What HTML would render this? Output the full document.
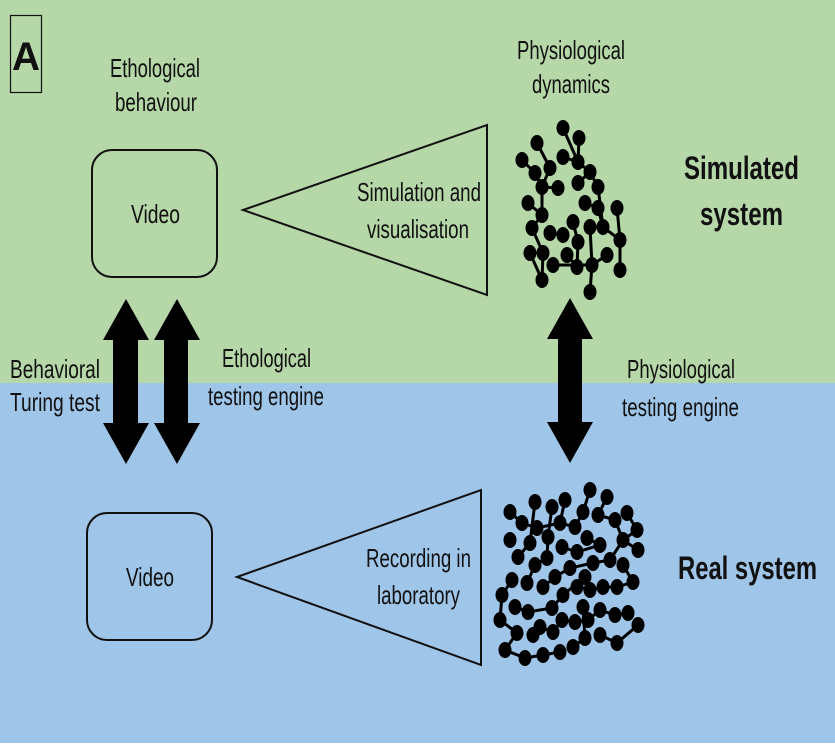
<!DOCTYPE html>
<html><head><meta charset="utf-8"><style>
html,body{margin:0;padding:0}
body{width:835px;height:743px;overflow:hidden}
text{font-family:"Liberation Sans",sans-serif;fill:#111}
</style></head><body>
<svg width="835" height="743" viewBox="0 0 835 743" xmlns="http://www.w3.org/2000/svg">
<rect x="0" y="0" width="835" height="383" fill="#b6d7a8"/>
<rect x="0" y="383" width="835" height="360" fill="#9fc5e8"/>
<rect x="10.5" y="15.5" width="31" height="77" fill="none" stroke="#111" stroke-width="1.2"/>
<text x="12" y="70" font-size="40" font-weight="bold" textLength="28" lengthAdjust="spacingAndGlyphs">A</text>
<g font-size="26">
<text x="110" y="77" textLength="90" lengthAdjust="spacingAndGlyphs">Ethological</text>
<text x="115" y="111" textLength="82" lengthAdjust="spacingAndGlyphs">behaviour</text>
<text x="517" y="59" textLength="108" lengthAdjust="spacingAndGlyphs">Physiological</text>
<text x="532" y="93" textLength="78" lengthAdjust="spacingAndGlyphs">dynamics</text>
<text x="357" y="201" textLength="124" lengthAdjust="spacingAndGlyphs">Simulation and</text>
<text x="367" y="238" textLength="102" lengthAdjust="spacingAndGlyphs">visualisation</text>
<text x="131" y="223" textLength="49" lengthAdjust="spacingAndGlyphs">Video</text>
<text x="126" y="586" textLength="48" lengthAdjust="spacingAndGlyphs">Video</text>
<text x="366" y="567" textLength="105" lengthAdjust="spacingAndGlyphs">Recording in</text>
<text x="377" y="604" textLength="83" lengthAdjust="spacingAndGlyphs">laboratory</text>
<text x="10" y="378" textLength="90" lengthAdjust="spacingAndGlyphs">Behavioral</text>
<text x="10" y="411" textLength="90" lengthAdjust="spacingAndGlyphs">Turing test</text>
<text x="222" y="367" textLength="89" lengthAdjust="spacingAndGlyphs">Ethological</text>
<text x="208" y="405" textLength="116" lengthAdjust="spacingAndGlyphs">testing engine</text>
<text x="627" y="378" textLength="108" lengthAdjust="spacingAndGlyphs">Physiological</text>
<text x="622" y="416" textLength="117" lengthAdjust="spacingAndGlyphs">testing engine</text>
</g>
<g font-size="32" font-weight="bold">
<text x="684" y="179" textLength="115" lengthAdjust="spacingAndGlyphs">Simulated</text>
<text x="700" y="225" textLength="83" lengthAdjust="spacingAndGlyphs">system</text>
<text x="678" y="579" textLength="139" lengthAdjust="spacingAndGlyphs">Real system</text>
</g>
<rect x="92" y="150" width="125" height="127" rx="20" fill="none" stroke="#111" stroke-width="2"/>
<rect x="87" y="513" width="125" height="127" rx="20" fill="none" stroke="#111" stroke-width="2"/>
<polygon points="243,210 487,125 487,295" fill="none" stroke="#111" stroke-width="2"/>
<polygon points="237,577 481,490 481,665" fill="none" stroke="#111" stroke-width="2"/>
<polygon points="126,299 149,340 138,340 138,423 149,423 126,464 103,423 113,423 113,340 103,340" fill="#000"/>
<polygon points="177,299 200,340 188,340 188,423 200,423 177,464 154,423 164,423 164,340 154,340" fill="#000"/>
<polygon points="570,298 593,339 582,339 582,422 593,422 570,463 547,422 558,422 558,339 547,339" fill="#000"/>
<g stroke="#000" stroke-width="3" fill="none">
<polyline points="563,128 578,162 590,172 598,187 603,227 590,227 592,265 590,292"/>
<polyline points="579,138 578,162 563,157"/>
<polyline points="537,143 550,168 542,187 542,215 528,203"/>
<polyline points="522,160 535,173 542,187 558,188"/>
<polyline points="542,215 532,228 543,253 542,280 530,253"/>
<polyline points="550,233 563,235"/>
<polyline points="578,183 590,172"/>
<polyline points="585,203 598,208 603,227 620,240 617,208"/>
<polyline points="573,222 578,242 577,267 567,255"/>
<polyline points="620,240 620,270"/>
<polyline points="607,255 592,265 553,265"/>
</g>
<g fill="#000">
<ellipse cx="563" cy="128" rx="6.5" ry="8"/><ellipse cx="579" cy="138" rx="6.5" ry="8"/><ellipse cx="537" cy="143" rx="6.5" ry="8"/><ellipse cx="522" cy="160" rx="6.5" ry="8"/><ellipse cx="563" cy="157" rx="6.5" ry="8"/><ellipse cx="578" cy="162" rx="6.5" ry="8"/><ellipse cx="550" cy="168" rx="6.5" ry="8"/><ellipse cx="535" cy="173" rx="6.5" ry="8"/><ellipse cx="590" cy="172" rx="6.5" ry="8"/><ellipse cx="542" cy="187" rx="6.5" ry="8"/><ellipse cx="558" cy="188" rx="6.5" ry="8"/><ellipse cx="578" cy="183" rx="6.5" ry="8"/><ellipse cx="598" cy="187" rx="6.5" ry="8"/><ellipse cx="528" cy="203" rx="6.5" ry="8"/><ellipse cx="585" cy="203" rx="6.5" ry="8"/><ellipse cx="598" cy="208" rx="6.5" ry="8"/><ellipse cx="617" cy="208" rx="6.5" ry="8"/><ellipse cx="542" cy="215" rx="6.5" ry="8"/><ellipse cx="573" cy="222" rx="6.5" ry="8"/><ellipse cx="532" cy="228" rx="6.5" ry="8"/><ellipse cx="590" cy="227" rx="6.5" ry="8"/><ellipse cx="603" cy="227" rx="6.5" ry="8"/><ellipse cx="550" cy="233" rx="6.5" ry="8"/><ellipse cx="563" cy="235" rx="6.5" ry="8"/><ellipse cx="620" cy="240" rx="6.5" ry="8"/><ellipse cx="578" cy="242" rx="6.5" ry="8"/><ellipse cx="530" cy="253" rx="6.5" ry="8"/><ellipse cx="543" cy="253" rx="6.5" ry="8"/><ellipse cx="567" cy="255" rx="6.5" ry="8"/><ellipse cx="607" cy="255" rx="6.5" ry="8"/><ellipse cx="553" cy="265" rx="6.5" ry="8"/><ellipse cx="577" cy="267" rx="6.5" ry="8"/><ellipse cx="592" cy="265" rx="6.5" ry="8"/><ellipse cx="620" cy="270" rx="6.5" ry="8"/><ellipse cx="542" cy="280" rx="6.5" ry="8"/><ellipse cx="590" cy="292" rx="6.5" ry="8"/>
</g>
<g stroke="#000" stroke-width="3" fill="none">
<polyline points="590,490 583,512 575,527 560,523 537,528 522,523 510,512"/>
<polyline points="535,502 530,543 518,557"/>
<polyline points="552,507 548,537 547,558 535,565 527,583"/>
<polyline points="565,500 560,523"/>
<polyline points="607,497 598,515 615,520 623,540 638,550"/>
<polyline points="627,513 637,530 623,540 610,560 593,563 570,568 555,577 543,587"/>
<polyline points="587,538 600,545 577,552 562,547"/>
<polyline points="623,565 633,582 617,587 603,587 590,590 577,587"/>
<polyline points="512,580 502,595 500,620 517,633 505,650 525,658 543,655 560,652"/>
<polyline points="515,607 528,612 552,608 563,595 585,577"/>
<polyline points="540,627 553,632 562,620 575,622 588,620 600,610 615,615 628,613"/>
<polyline points="583,607 585,638 573,647"/>
<polyline points="638,625 617,643 600,635"/>
<polyline points="533,635 540,627"/>
</g>
<g fill="#000">
<ellipse cx="590" cy="490" rx="6.5" ry="8"/><ellipse cx="607" cy="497" rx="6.5" ry="8"/><ellipse cx="565" cy="500" rx="6.5" ry="8"/><ellipse cx="535" cy="502" rx="6.5" ry="8"/><ellipse cx="552" cy="507" rx="6.5" ry="8"/><ellipse cx="510" cy="512" rx="6.5" ry="8"/><ellipse cx="583" cy="512" rx="6.5" ry="8"/><ellipse cx="627" cy="513" rx="6.5" ry="8"/><ellipse cx="598" cy="515" rx="6.5" ry="8"/><ellipse cx="615" cy="520" rx="6.5" ry="8"/><ellipse cx="522" cy="523" rx="6.5" ry="8"/><ellipse cx="560" cy="523" rx="6.5" ry="8"/><ellipse cx="537" cy="528" rx="6.5" ry="8"/><ellipse cx="575" cy="527" rx="6.5" ry="8"/><ellipse cx="637" cy="530" rx="6.5" ry="8"/><ellipse cx="548" cy="537" rx="6.5" ry="8"/><ellipse cx="587" cy="538" rx="6.5" ry="8"/><ellipse cx="510" cy="540" rx="6.5" ry="8"/><ellipse cx="623" cy="540" rx="6.5" ry="8"/><ellipse cx="530" cy="543" rx="6.5" ry="8"/><ellipse cx="562" cy="547" rx="6.5" ry="8"/><ellipse cx="600" cy="545" rx="6.5" ry="8"/><ellipse cx="638" cy="550" rx="6.5" ry="8"/><ellipse cx="577" cy="552" rx="6.5" ry="8"/><ellipse cx="518" cy="557" rx="6.5" ry="8"/><ellipse cx="547" cy="558" rx="6.5" ry="8"/><ellipse cx="610" cy="560" rx="6.5" ry="8"/><ellipse cx="535" cy="565" rx="6.5" ry="8"/><ellipse cx="593" cy="563" rx="6.5" ry="8"/><ellipse cx="623" cy="565" rx="6.5" ry="8"/><ellipse cx="570" cy="568" rx="6.5" ry="8"/><ellipse cx="555" cy="577" rx="6.5" ry="8"/><ellipse cx="585" cy="577" rx="6.5" ry="8"/><ellipse cx="512" cy="580" rx="6.5" ry="8"/><ellipse cx="633" cy="582" rx="6.5" ry="8"/><ellipse cx="527" cy="583" rx="6.5" ry="8"/><ellipse cx="543" cy="587" rx="6.5" ry="8"/><ellipse cx="603" cy="587" rx="6.5" ry="8"/><ellipse cx="617" cy="587" rx="6.5" ry="8"/><ellipse cx="577" cy="587" rx="6.5" ry="8"/><ellipse cx="590" cy="590" rx="6.5" ry="8"/><ellipse cx="502" cy="595" rx="6.5" ry="8"/><ellipse cx="563" cy="595" rx="6.5" ry="8"/><ellipse cx="515" cy="607" rx="6.5" ry="8"/><ellipse cx="552" cy="608" rx="6.5" ry="8"/><ellipse cx="528" cy="612" rx="6.5" ry="8"/><ellipse cx="583" cy="607" rx="6.5" ry="8"/><ellipse cx="600" cy="610" rx="6.5" ry="8"/><ellipse cx="615" cy="615" rx="6.5" ry="8"/><ellipse cx="628" cy="613" rx="6.5" ry="8"/><ellipse cx="500" cy="620" rx="6.5" ry="8"/><ellipse cx="562" cy="620" rx="6.5" ry="8"/><ellipse cx="575" cy="622" rx="6.5" ry="8"/><ellipse cx="588" cy="620" rx="6.5" ry="8"/><ellipse cx="540" cy="627" rx="6.5" ry="8"/><ellipse cx="638" cy="625" rx="6.5" ry="8"/><ellipse cx="517" cy="633" rx="6.5" ry="8"/><ellipse cx="600" cy="635" rx="6.5" ry="8"/><ellipse cx="553" cy="632" rx="6.5" ry="8"/><ellipse cx="585" cy="638" rx="6.5" ry="8"/><ellipse cx="533" cy="635" rx="6.5" ry="8"/><ellipse cx="617" cy="643" rx="6.5" ry="8"/><ellipse cx="505" cy="650" rx="6.5" ry="8"/><ellipse cx="560" cy="652" rx="6.5" ry="8"/><ellipse cx="573" cy="647" rx="6.5" ry="8"/><ellipse cx="525" cy="658" rx="6.5" ry="8"/><ellipse cx="543" cy="655" rx="6.5" ry="8"/>
</g>
</svg>
</body></html>
